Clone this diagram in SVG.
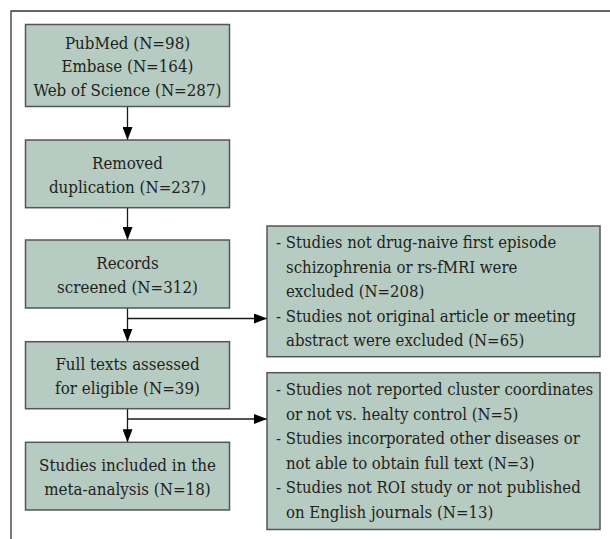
<svg xmlns="http://www.w3.org/2000/svg" width="610" height="539" viewBox="0 0 610 539">
<style>
.box{fill:#b6cbc2;stroke:#555;stroke-width:1.5}
.t{font-family:'DejaVu Serif Condensed','DejaVu Serif',serif;font-stretch:condensed;font-size:16.8px;fill:#231f20}
.r{font-size:16.6px}
.c{text-anchor:middle}
.ln{stroke:#1a1a1a;stroke-width:1.3;fill:none}
.frame{stroke:#333;stroke-width:1.3;fill:none}
</style>
<defs>
<marker id="ah" viewBox="0 0 13 10" refX="13" refY="5" markerWidth="13" markerHeight="10" markerUnits="userSpaceOnUse" orient="auto">
<path d="M0,0 L13,5 L0,10 z" fill="#000"/>
</marker>
</defs>
<path class="frame" d="M11,539 L11,11 L610,11"/>
<g id="connectors">
<line class="ln" x1="127.5" y1="106.5" x2="127.5" y2="140" marker-end="url(#ah)"/>
<line class="ln" x1="127.5" y1="207.7" x2="127.5" y2="240" marker-end="url(#ah)"/>
<line class="ln" x1="127.5" y1="308" x2="127.5" y2="341.7" marker-end="url(#ah)"/>
<line class="ln" x1="127.5" y1="408.7" x2="127.5" y2="442.3" marker-end="url(#ah)"/>
<line class="ln" x1="127.5" y1="318.5" x2="267" y2="318.5" marker-end="url(#ah)"/>
<line class="ln" x1="127.5" y1="419" x2="267" y2="419" marker-end="url(#ah)"/>
</g>
<g id="n1">
<rect class="box" x="25.5" y="24.5" width="204" height="82"/>
<text class="t c" x="127.5" y="48.5">PubMed (N=98)</text>
<text class="t c" x="127.5" y="72">Embase (N=164)</text>
<text class="t c" x="127.5" y="95.5">Web of Science (N=287)</text>
</g>
<g id="n2">
<rect class="box" x="25.5" y="140" width="204" height="67.7"/>
<text class="t c" x="127.5" y="169">Removed</text>
<text class="t c" x="127.5" y="192.5">duplication (N=237)</text>
</g>
<g id="n3">
<rect class="box" x="25.5" y="240" width="204" height="68"/>
<text class="t c" x="127.5" y="269">Records</text>
<text class="t c" x="127.5" y="292.5">screened (N=312)</text>
</g>
<g id="n4">
<rect class="box" x="25.5" y="341.7" width="204" height="67"/>
<text class="t c" x="127.5" y="370">Full texts assessed</text>
<text class="t c" x="127.5" y="393.5">for eligible (N=39)</text>
</g>
<g id="n5">
<rect class="box" x="25.5" y="442.3" width="204" height="67.7"/>
<text class="t c" x="127.5" y="471">Studies included in the</text>
<text class="t c" x="127.5" y="494.5">meta-analysis (N=18)</text>
</g>
<g id="n6">
<rect class="box" x="267" y="226" width="333" height="130.7"/>
<text class="t r" x="276" y="248">- Studies not drug-naive first episode</text>
<text class="t r" x="286" y="272.5">schizophrenia or rs-fMRI were</text>
<text class="t r" x="286" y="297">excluded (N=208)</text>
<text class="t r" x="276" y="321.5">- Studies not original article or meeting</text>
<text class="t r" x="286" y="346">abstract were excluded (N=65)</text>
</g>
<g id="n7">
<rect class="box" x="267" y="372.7" width="333" height="156.8"/>
<text class="t r" x="276" y="395">- Studies not reported cluster coordinates</text>
<text class="t r" x="286" y="419.5">or not vs. healty control (N=5)</text>
<text class="t r" x="276" y="444">- Studies incorporated other diseases or</text>
<text class="t r" x="286" y="468.5">not able to obtain full text (N=3)</text>
<text class="t r" x="276" y="493">- Studies not ROI study or not published</text>
<text class="t r" x="286" y="517.5">on English journals (N=13)</text>
</g>
</svg>
